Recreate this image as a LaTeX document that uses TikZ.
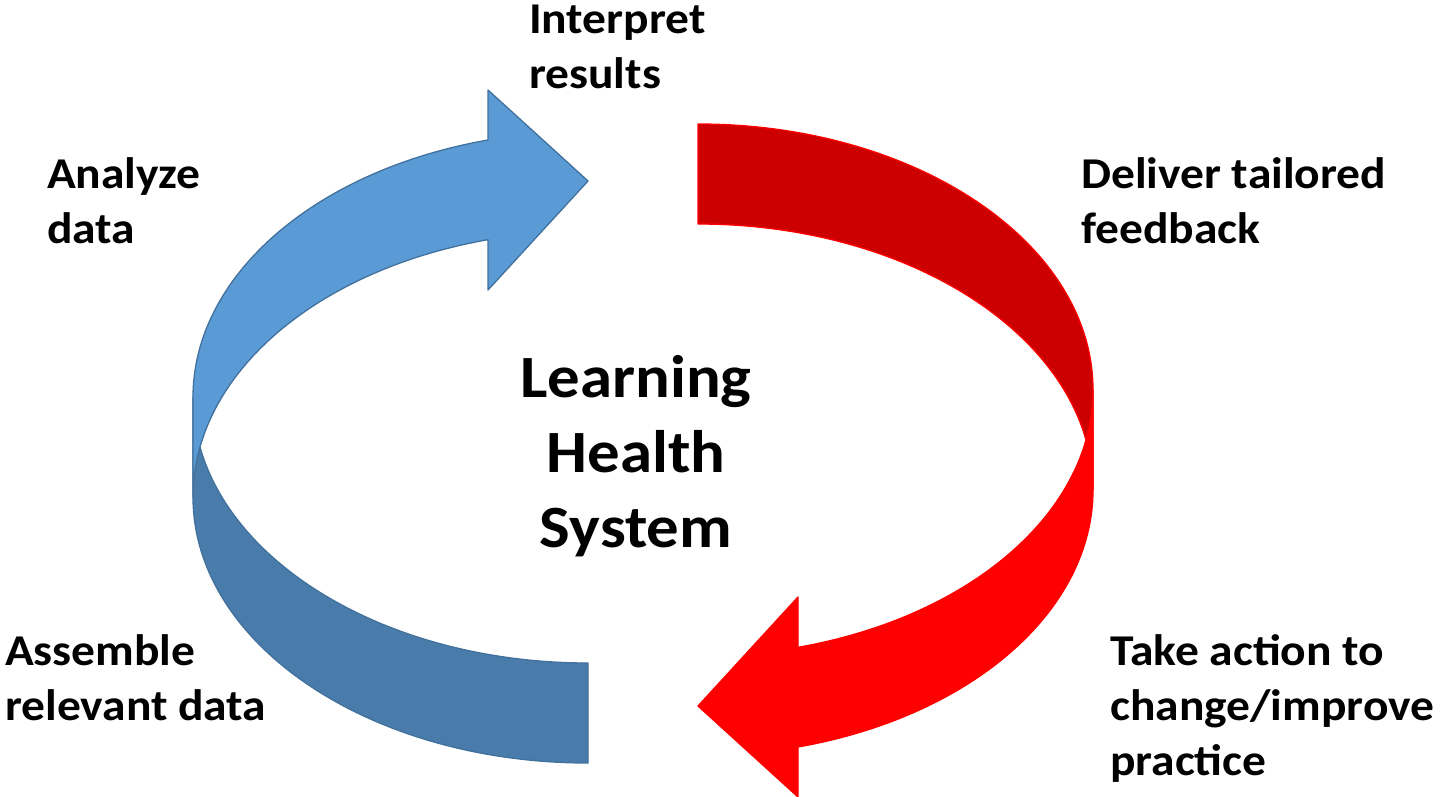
\documentclass[tikz,border=0pt]{standalone}
\usepackage{fontspec}
\setmainfont{Carlito}[FakeStretch=1.08]
\definecolor{blueL}{HTML}{5B9BD5}
\definecolor{blueD}{HTML}{497CAA}
\definecolor{blueEdge}{HTML}{41719C}
\definecolor{redL}{HTML}{FF0000}
\definecolor{redD}{HTML}{CC0000}
\newcommand\cyclearrow[2]{%
  \path[#1] (588,663) arc[start angle=90, end angle=180, x radius=395, y radius=266]
     -- (193,497) arc[start angle=180, end angle=90, x radius=395, y radius=266] -- cycle;
  \path[#2] (193,497) arc[start angle=180, end angle=255.335, x radius=395, y radius=266]
     -- (488,290) -- (588,181) -- (488,90) -- (488,140)
     arc[start angle=255.335, end angle=180, x radius=395, y radius=266] -- cycle;
}
\begin{document}
\begin{tikzpicture}[x=1pt,y=-1pt,
  bandedge/.style={line width=1.3pt, line join=round},
  bluelight/.style={bandedge, fill=blueL, draw=blueEdge},
  bluedark/.style={bandedge, fill=blueD, draw=blueEdge},
  redlight/.style={bandedge, fill=redL, draw=redL},
  reddark/.style={bandedge, fill=redD, draw=redL},
  steplabel/.style={font=\fontsize{44}{55}\selectfont\bfseries, align=left, inner sep=0pt, anchor=north west},
  titlelabel/.style={font=\fontsize{60}{75}\selectfont\bfseries, align=center, inner sep=0pt, anchor=north},
]
\useasboundingbox[fill=white] (0,0) rectangle (1440,797);
\cyclearrow{bluedark}{bluelight}
\begin{scope}[rotate around={180:(643,443.5)}]
\cyclearrow{reddark}{redlight}
\end{scope}
\node[steplabel] (interpret) at (529,5) {Interpret\\results};
\node[steplabel] (analyze) at (47,157) {Analyze\\data};
\node[steplabel] (deliver) at (1081,157) {Deliver tailored\\feedback};
\node[steplabel] (assemble) at (5,634) {Assemble\\relevant data};
\node[steplabel] (action) at (1110,634) {Take action to\\change/improve\\practice};
\node[titlelabel] (lhs) at (636,355) {Learning\\Health\\System};
\end{tikzpicture}
\end{document}
